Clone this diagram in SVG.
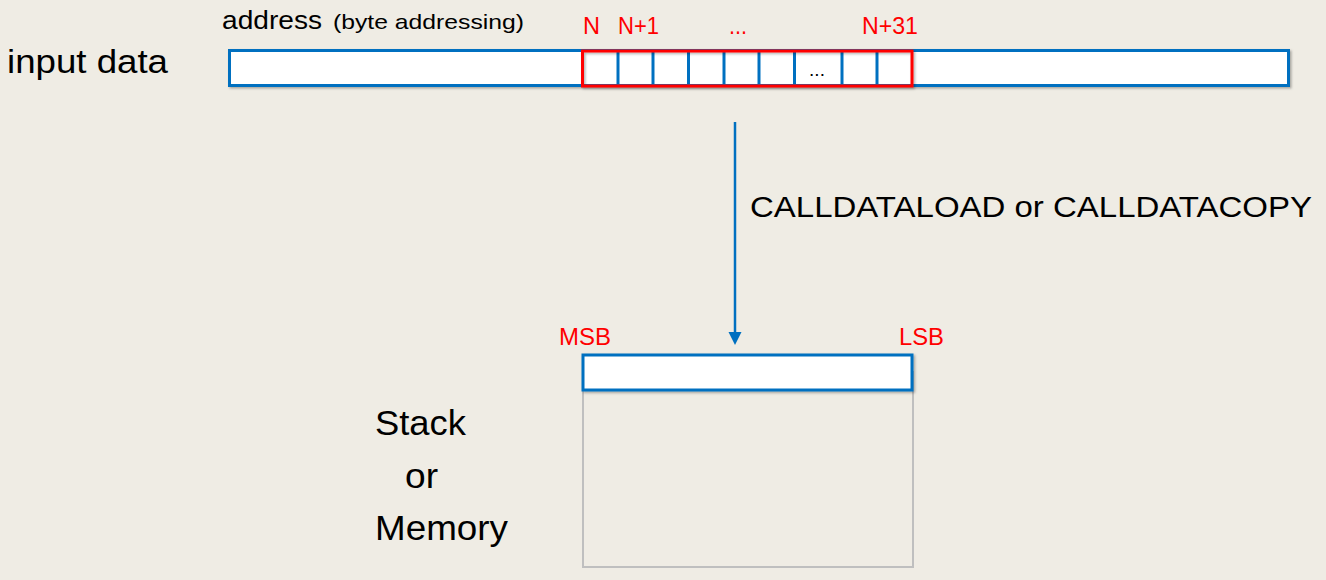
<svg xmlns="http://www.w3.org/2000/svg" width="1326" height="580" viewBox="0 0 1326 580">
<defs>
<style>
.t{font-family:"Liberation Sans",Arial,sans-serif;fill:#000}
.r{font-family:"Liberation Sans",Arial,sans-serif;fill:#FF0000}
.blue{fill:#fff;stroke:#0070C0;stroke-width:3}
.div{stroke:#0070C0;stroke-width:3}
</style>
<filter id="sh" x="-5%" y="-20%" width="110%" height="150%">
<feDropShadow dx="1.5" dy="1.5" stdDeviation="1" flood-color="#000" flood-opacity="0.3"/>
</filter>
</defs>
<rect width="1326" height="580" fill="#EFECE4"/>
<g id="input-label"><text class="t" x="7" y="73" font-size="34" textLength="161" lengthAdjust="spacingAndGlyphs">input data</text></g>
<g id="address-label">
<text class="t" x="222" y="29" font-size="25" textLength="100" lengthAdjust="spacingAndGlyphs">address</text>
<text class="t" x="333" y="29" font-size="21" textLength="191" lengthAdjust="spacingAndGlyphs">(byte addressing)</text>
</g>
<g id="input-bar">
<rect class="blue" x="229.5" y="50.5" width="1059" height="35" filter="url(#sh)"/>
<line class="div" x1="618" y1="51" x2="618" y2="86"/>
<line class="div" x1="653" y1="51" x2="653" y2="86"/>
<line class="div" x1="688.5" y1="51" x2="688.5" y2="86"/>
<line class="div" x1="724" y1="51" x2="724" y2="86"/>
<line class="div" x1="759" y1="51" x2="759" y2="86"/>
<line class="div" x1="794.5" y1="51" x2="794.5" y2="86"/>
<line class="div" x1="842" y1="51" x2="842" y2="86"/>
<line class="div" x1="877" y1="51" x2="877" y2="86"/>
<text class="t" x="817" y="76" font-size="19" text-anchor="middle">...</text>
<rect x="582.5" y="51" width="329.5" height="35" fill="none" stroke="#FF0000" stroke-width="3" filter="url(#sh)"/>
</g>
<g id="byte-labels">
<text class="r" x="583" y="34" font-size="23" textLength="17" lengthAdjust="spacingAndGlyphs">N</text>
<text class="r" x="618" y="34" font-size="23" textLength="41" lengthAdjust="spacingAndGlyphs">N+1</text>
<text class="r" x="729" y="34" font-size="23" textLength="18" lengthAdjust="spacingAndGlyphs">...</text>
<text class="r" x="862" y="34" font-size="23" textLength="56" lengthAdjust="spacingAndGlyphs">N+31</text>
</g>
<g id="connectors">
<line x1="735" y1="122" x2="735" y2="334" stroke="#0070C0" stroke-width="2.5"/>
<polygon points="728.5,332 741.5,332 735,345" fill="#0070C0"/>
</g>
<g id="op-label"><text class="t" x="750" y="217" font-size="30" textLength="562" lengthAdjust="spacingAndGlyphs">CALLDATALOAD or CALLDATACOPY</text></g>
<g id="stack">
<rect x="583" y="372" width="330" height="195" fill="none" stroke="#BFBFBF" stroke-width="2"/>
<rect class="blue" x="583" y="355" width="329" height="35" filter="url(#sh)"/>
<text class="r" x="559" y="345" font-size="23" textLength="52" lengthAdjust="spacingAndGlyphs">MSB</text>
<text class="r" x="899" y="345" font-size="23" textLength="45" lengthAdjust="spacingAndGlyphs">LSB</text>
</g>
<g id="stack-label">
<text class="t" x="375" y="435" font-size="35" textLength="91" lengthAdjust="spacingAndGlyphs">Stack</text>
<text class="t" x="405" y="488" font-size="35" textLength="33" lengthAdjust="spacingAndGlyphs">or</text>
<text class="t" x="375" y="540" font-size="35" textLength="133" lengthAdjust="spacingAndGlyphs">Memory</text>
</g>
</svg>
